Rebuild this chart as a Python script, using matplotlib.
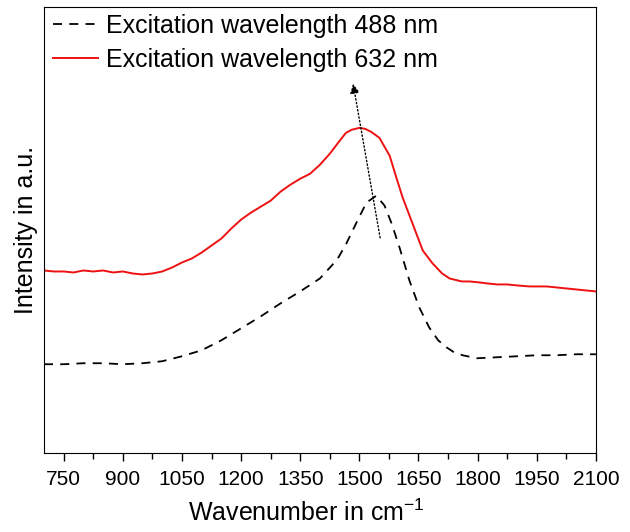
import matplotlib.pyplot as plt
from matplotlib.ticker import MultipleLocator

plt.rcParams['font.family'] = ['Liberation Sans', 'DejaVu Sans']
plt.rcParams['mathtext.fontset'] = 'custom'
plt.rcParams['mathtext.rm'] = 'Liberation Sans'

# Datos (intensidad en u.a.)
wn_632 = [700, 725, 750, 775, 800, 825, 850, 875, 900, 925, 950, 975, 1000, 1025,
          1050, 1075, 1100, 1125, 1150, 1175, 1200, 1225, 1250, 1275, 1300, 1325,
          1350, 1375, 1400, 1425, 1450, 1466, 1480, 1500, 1515, 1530, 1551, 1577,
          1594, 1610, 1635, 1661, 1686, 1710, 1729, 1760, 1780, 1805, 1825, 1850,
          1875, 1900, 1932, 1950, 1975, 2000, 2025, 2050, 2075, 2100]
int_632 = [187, 186, 186, 185, 187, 186, 187, 185, 186, 184, 183, 184, 186, 190,
           195, 199, 205, 212, 219, 229, 238, 245, 251, 257, 266, 273,
           279, 284, 293, 304, 317, 325, 328, 330, 329, 326, 320, 302,
           280, 260, 234, 207, 194, 184, 179, 176, 176, 175, 174, 173,
           173, 172, 171, 171, 171, 170, 169, 168, 167, 166]

wn_488 = [700, 750, 800, 850, 900, 950, 1000, 1050, 1100, 1150, 1200, 1250, 1300,
          1350, 1400, 1444, 1467, 1494, 1518, 1543, 1564, 1582, 1602, 1627, 1652,
          1677, 1700, 1721, 1740, 1762, 1798, 1850, 1900, 1950, 2000, 2050, 2100]
int_488 = [93, 93, 94, 94, 93, 94, 96, 101, 107, 117, 129, 141, 154,
           166, 179, 198, 214, 236, 255, 262, 252, 234, 210, 177, 150,
           130, 117, 110, 105, 102, 99, 100, 101, 102, 102, 103, 103]

# Flecha del desplazamiento del pico
arrow_start = (1554, 217)
arrow_end = (1483, 377)

fig = plt.figure(figsize=(6.3, 5.32), dpi=100)
ax = fig.add_axes([0.0698, 0.1485, 0.876, 0.838])

ax.plot(wn_488, int_488, color='black', linestyle=(0, (5, 4)), linewidth=1.3,
        label='Excitation wavelength 488 nm')
ax.plot(wn_632, int_632, color='#ee1111', linewidth=1.4,
        label='Excitation wavelength 632 nm')

ax.annotate('', xy=arrow_end, xytext=arrow_start,
            arrowprops=dict(arrowstyle='-|>', linestyle=':', color='black',
                            linewidth=1.0, mutation_scale=14))

ax.set_xlim(700, 2100)
ax.set_ylim(4, 451)
ax.xaxis.set_minor_locator(MultipleLocator(75))
ax.set_xticks([750, 900, 1050, 1200, 1350, 1500, 1650, 1800, 1950, 2100])
ax.set_yticks([])
ax.tick_params(axis='x', which='major', direction='out', length=6, width=1,
               labelsize=15, pad=6)
ax.tick_params(axis='x', which='minor', direction='out', length=4, width=1)

ax.set_xlabel('Wavenumber in cm$^{\\mathregular{-1}}$', fontsize=18, labelpad=7)
ax.xaxis.set_label_coords(0.475, -0.105)
ax.set_ylabel('Intensity in a.u.', fontsize=18, labelpad=4)

ax.legend(loc='upper left', bbox_to_anchor=(0.012, 0.991), frameon=False,
          fontsize=18, handlelength=1.8, handletextpad=0.3,
          borderaxespad=0, borderpad=0.1, labelspacing=0.42)

plt.savefig('out.png', dpi=100)
plt.close()
